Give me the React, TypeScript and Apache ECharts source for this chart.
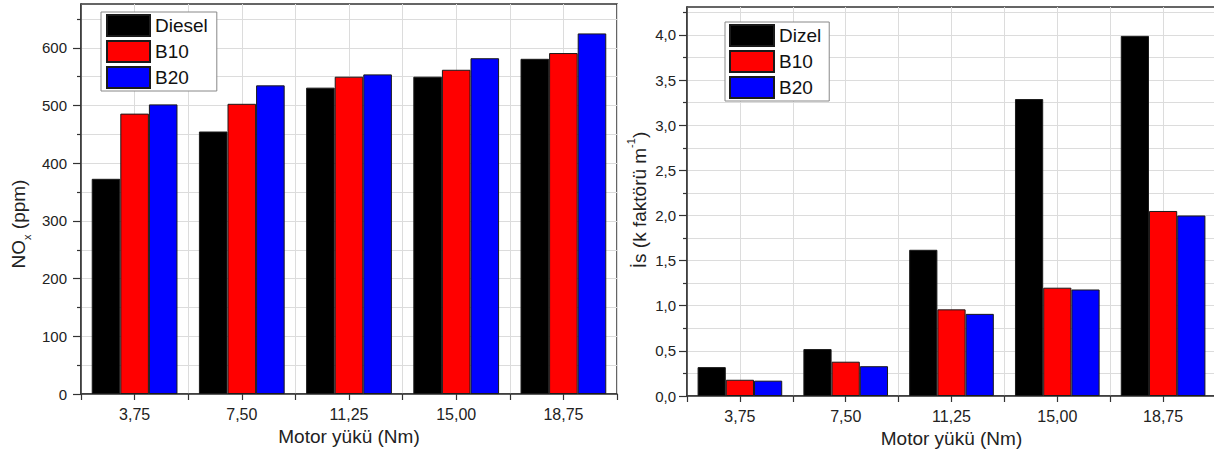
import React, { useEffect, useRef } from 'react';
import * as echarts from 'echarts';

const categories = ['3,75', '7,50', '11,25', '15,00', '18,75'];

const noxDiesel = [373, 455, 531, 550, 581];
const noxB10 = [486, 503, 550, 562, 591];
const noxB20 = [502, 535, 554, 582, 625];

const smokeDizel = [0.32, 0.52, 1.62, 3.29, 3.99];
const smokeB10 = [0.18, 0.38, 0.96, 1.2, 2.05];
const smokeB20 = [0.17, 0.33, 0.91, 1.18, 2.0];

const noxTicks = [0, 100, 200, 300, 400, 500, 600];
const noxMinorTicks = [50, 150, 250, 350, 450, 550, 650];
const smokeTicks = [0, 0.5, 1.0, 1.5, 2.0, 2.5, 3.0, 3.5, 4.0];
const smokeMinorTicks = [0.25, 0.75, 1.25, 1.75, 2.25, 2.75, 3.25, 3.75, 4.25];

const FONT = "'Liberation Sans', Arial, sans-serif";
const TEXT = '#222';
const AXIS = '#333';
const GRIDLINE = '#dcdcdc';

export default function App() {
  const ref = useRef<HTMLDivElement>(null);

  useEffect(() => {
    const chart = echarts.init(ref.current!, null, { renderer: 'svg' });

    const barStyle = (color: string) => ({
      color,
      borderColor: '#1a1a1a',
      borderWidth: 1,
    });

    const catAxis = (gridIndex: number, nameGap: number) => ({
      type: 'category',
      gridIndex,
      data: categories,
      position: 'bottom',
      boundaryGap: true,
      axisLine: { show: true, lineStyle: { color: AXIS, width: 1.5 } },
      axisTick: { show: false },
      axisLabel: { margin: 12, fontSize: 16, color: TEXT, fontFamily: FONT },
      splitLine: { show: false },
      name: 'Motor yükü (Nm)',
      nameLocation: 'middle',
      nameGap,
      nameTextStyle: { fontSize: 19, color: TEXT, fontFamily: FONT },
    });

    const tickAxis = (gridIndex: number) => ({
      type: 'value',
      gridIndex,
      position: 'bottom',
      min: 0,
      max: 10,
      interval: 1,
      axisLine: { show: false },
      axisTick: { show: true, length: 6, lineStyle: { color: AXIS, width: 1.2 } },
      axisLabel: { show: false },
      splitLine: { show: true, lineStyle: { color: GRIDLINE, width: 1 } },
    });

    const option: any = {
      animation: false,
      backgroundColor: '#ffffff',
      textStyle: { fontFamily: FONT },
      grid: [
        {
          left: 81, top: 4, width: 536, height: 390,
          show: true, borderColor: AXIS, borderWidth: 1.5, backgroundColor: 'transparent',
          outerBoundsMode: 'none',
        },
        {
          left: 687, top: 7, width: 529, height: 389,
          show: true, borderColor: AXIS, borderWidth: 1.5, backgroundColor: 'transparent',
          outerBoundsMode: 'none',
        },
      ],
      xAxis: [catAxis(0, 22), tickAxis(0), catAxis(1, 20), tickAxis(1)],
      yAxis: [
        {
          type: 'value', gridIndex: 0, position: 'left', min: 0, max: 676, interval: 100,
          axisLine: { show: true, lineStyle: { color: AXIS, width: 1.5 } },
          axisTick: { show: true, length: 8, customValues: noxTicks, lineStyle: { color: AXIS, width: 1.2 } },
          axisLabel: { customValues: noxTicks, margin: 14, fontSize: 15, color: TEXT, fontFamily: FONT },
          splitLine: { show: true, lineStyle: { color: GRIDLINE } },
        },
        {
          type: 'value', gridIndex: 0, position: 'left', min: 0, max: 676, interval: 50,
          axisLine: { show: false },
          axisTick: { show: true, length: 4, customValues: noxMinorTicks, lineStyle: { color: AXIS, width: 1.2 } },
          axisLabel: { show: false },
          splitLine: { show: true, lineStyle: { color: GRIDLINE } },
        },
        {
          type: 'value', gridIndex: 1, position: 'left', min: 0, max: 4.31, interval: 0.5,
          axisLine: { show: true, lineStyle: { color: AXIS, width: 1.5 } },
          axisTick: { show: true, length: 8, customValues: smokeTicks, lineStyle: { color: AXIS, width: 1.2 } },
          axisLabel: {
            customValues: smokeTicks, margin: 11, fontSize: 15, color: TEXT, fontFamily: FONT,
            formatter: (v: number) => v.toFixed(1).replace('.', ','),
          },
          splitLine: { show: true, lineStyle: { color: GRIDLINE } },
        },
        {
          type: 'value', gridIndex: 1, position: 'left', min: 0, max: 4.31, interval: 0.25,
          axisLine: { show: false },
          axisTick: { show: true, length: 4, customValues: smokeMinorTicks, lineStyle: { color: AXIS, width: 1.2 } },
          axisLabel: { show: false },
          splitLine: { show: true, lineStyle: { color: GRIDLINE } },
        },
      ],
      legend: [
        {
          data: ['Diesel', 'B10', 'B20'],
          orient: 'vertical', left: 101, top: 12,
          itemWidth: 43, itemHeight: 21, itemGap: 3,
          padding: [2, 9, 2, 5],
          backgroundColor: '#fff', borderColor: '#888', borderWidth: 1,
          icon: 'rect',
          textStyle: { fontSize: 19, color: '#111', fontFamily: FONT },
          selectedMode: false,
        },
        {
          data: ['Dizel', 'B10', 'B20'],
          orient: 'vertical', left: 725, top: 22,
          itemWidth: 44, itemHeight: 21, itemGap: 3,
          padding: [2, 8, 2, 4],
          backgroundColor: '#fff', borderColor: '#888', borderWidth: 1,
          icon: 'rect',
          textStyle: { fontSize: 19, color: '#111', fontFamily: FONT },
          selectedMode: false,
        },
      ],
      series: [
        { name: 'Diesel', type: 'bar', xAxisIndex: 0, yAxisIndex: 0, data: noxDiesel, itemStyle: barStyle('#000000'), barGap: '0%', barCategoryGap: '20%' },
        { name: 'B10', type: 'bar', xAxisIndex: 0, yAxisIndex: 0, data: noxB10, itemStyle: barStyle('#ff0000'), barGap: '0%', barCategoryGap: '20%' },
        { name: 'B20', type: 'bar', xAxisIndex: 0, yAxisIndex: 0, data: noxB20, itemStyle: barStyle('#0000ff'), barGap: '0%', barCategoryGap: '20%' },
        { name: 'Dizel', type: 'bar', xAxisIndex: 2, yAxisIndex: 2, data: smokeDizel, itemStyle: barStyle('#000000'), barGap: '0%', barCategoryGap: '20%' },
        { name: 'B10', type: 'bar', xAxisIndex: 2, yAxisIndex: 2, data: smokeB10, itemStyle: barStyle('#ff0000'), barGap: '0%', barCategoryGap: '20%' },
        { name: 'B20', type: 'bar', xAxisIndex: 2, yAxisIndex: 2, data: smokeB20, itemStyle: barStyle('#0000ff'), barGap: '0%', barCategoryGap: '20%' },
      ],
      graphic: [
        {
          type: 'text', x: 18, y: 224, rotation: Math.PI / 2,
          style: {
            text: '{a|NO}{b|x}{a| (ppm)}',
            align: 'center', verticalAlign: 'middle', fill: TEXT,
            rich: {
              a: { fontSize: 19, fontFamily: FONT, fill: TEXT, lineHeight: 28 },
              b: { fontSize: 11, fontFamily: FONT, fill: TEXT, lineHeight: 11, verticalAlign: 'bottom' },
            },
          },
        },
        {
          type: 'text', x: 639, y: 200, rotation: Math.PI / 2,
          style: {
            text: '{a|İs (k faktörü m}{c|-1}{a|)}',
            align: 'center', verticalAlign: 'middle', fill: TEXT,
            rich: {
              a: { fontSize: 19, fontFamily: FONT, fill: TEXT, lineHeight: 28 },
              c: { fontSize: 11, fontFamily: FONT, fill: TEXT, lineHeight: 11, verticalAlign: 'top' },
            },
          },
        },
      ],
    };

    chart.setOption(option);
    return () => chart.dispose();
  }, []);

  return (
    <div
      ref={ref}
      style={{ position: 'absolute', left: 0, top: 0, width: 1214, height: 450, background: '#fff' }}
    />
  );
}
